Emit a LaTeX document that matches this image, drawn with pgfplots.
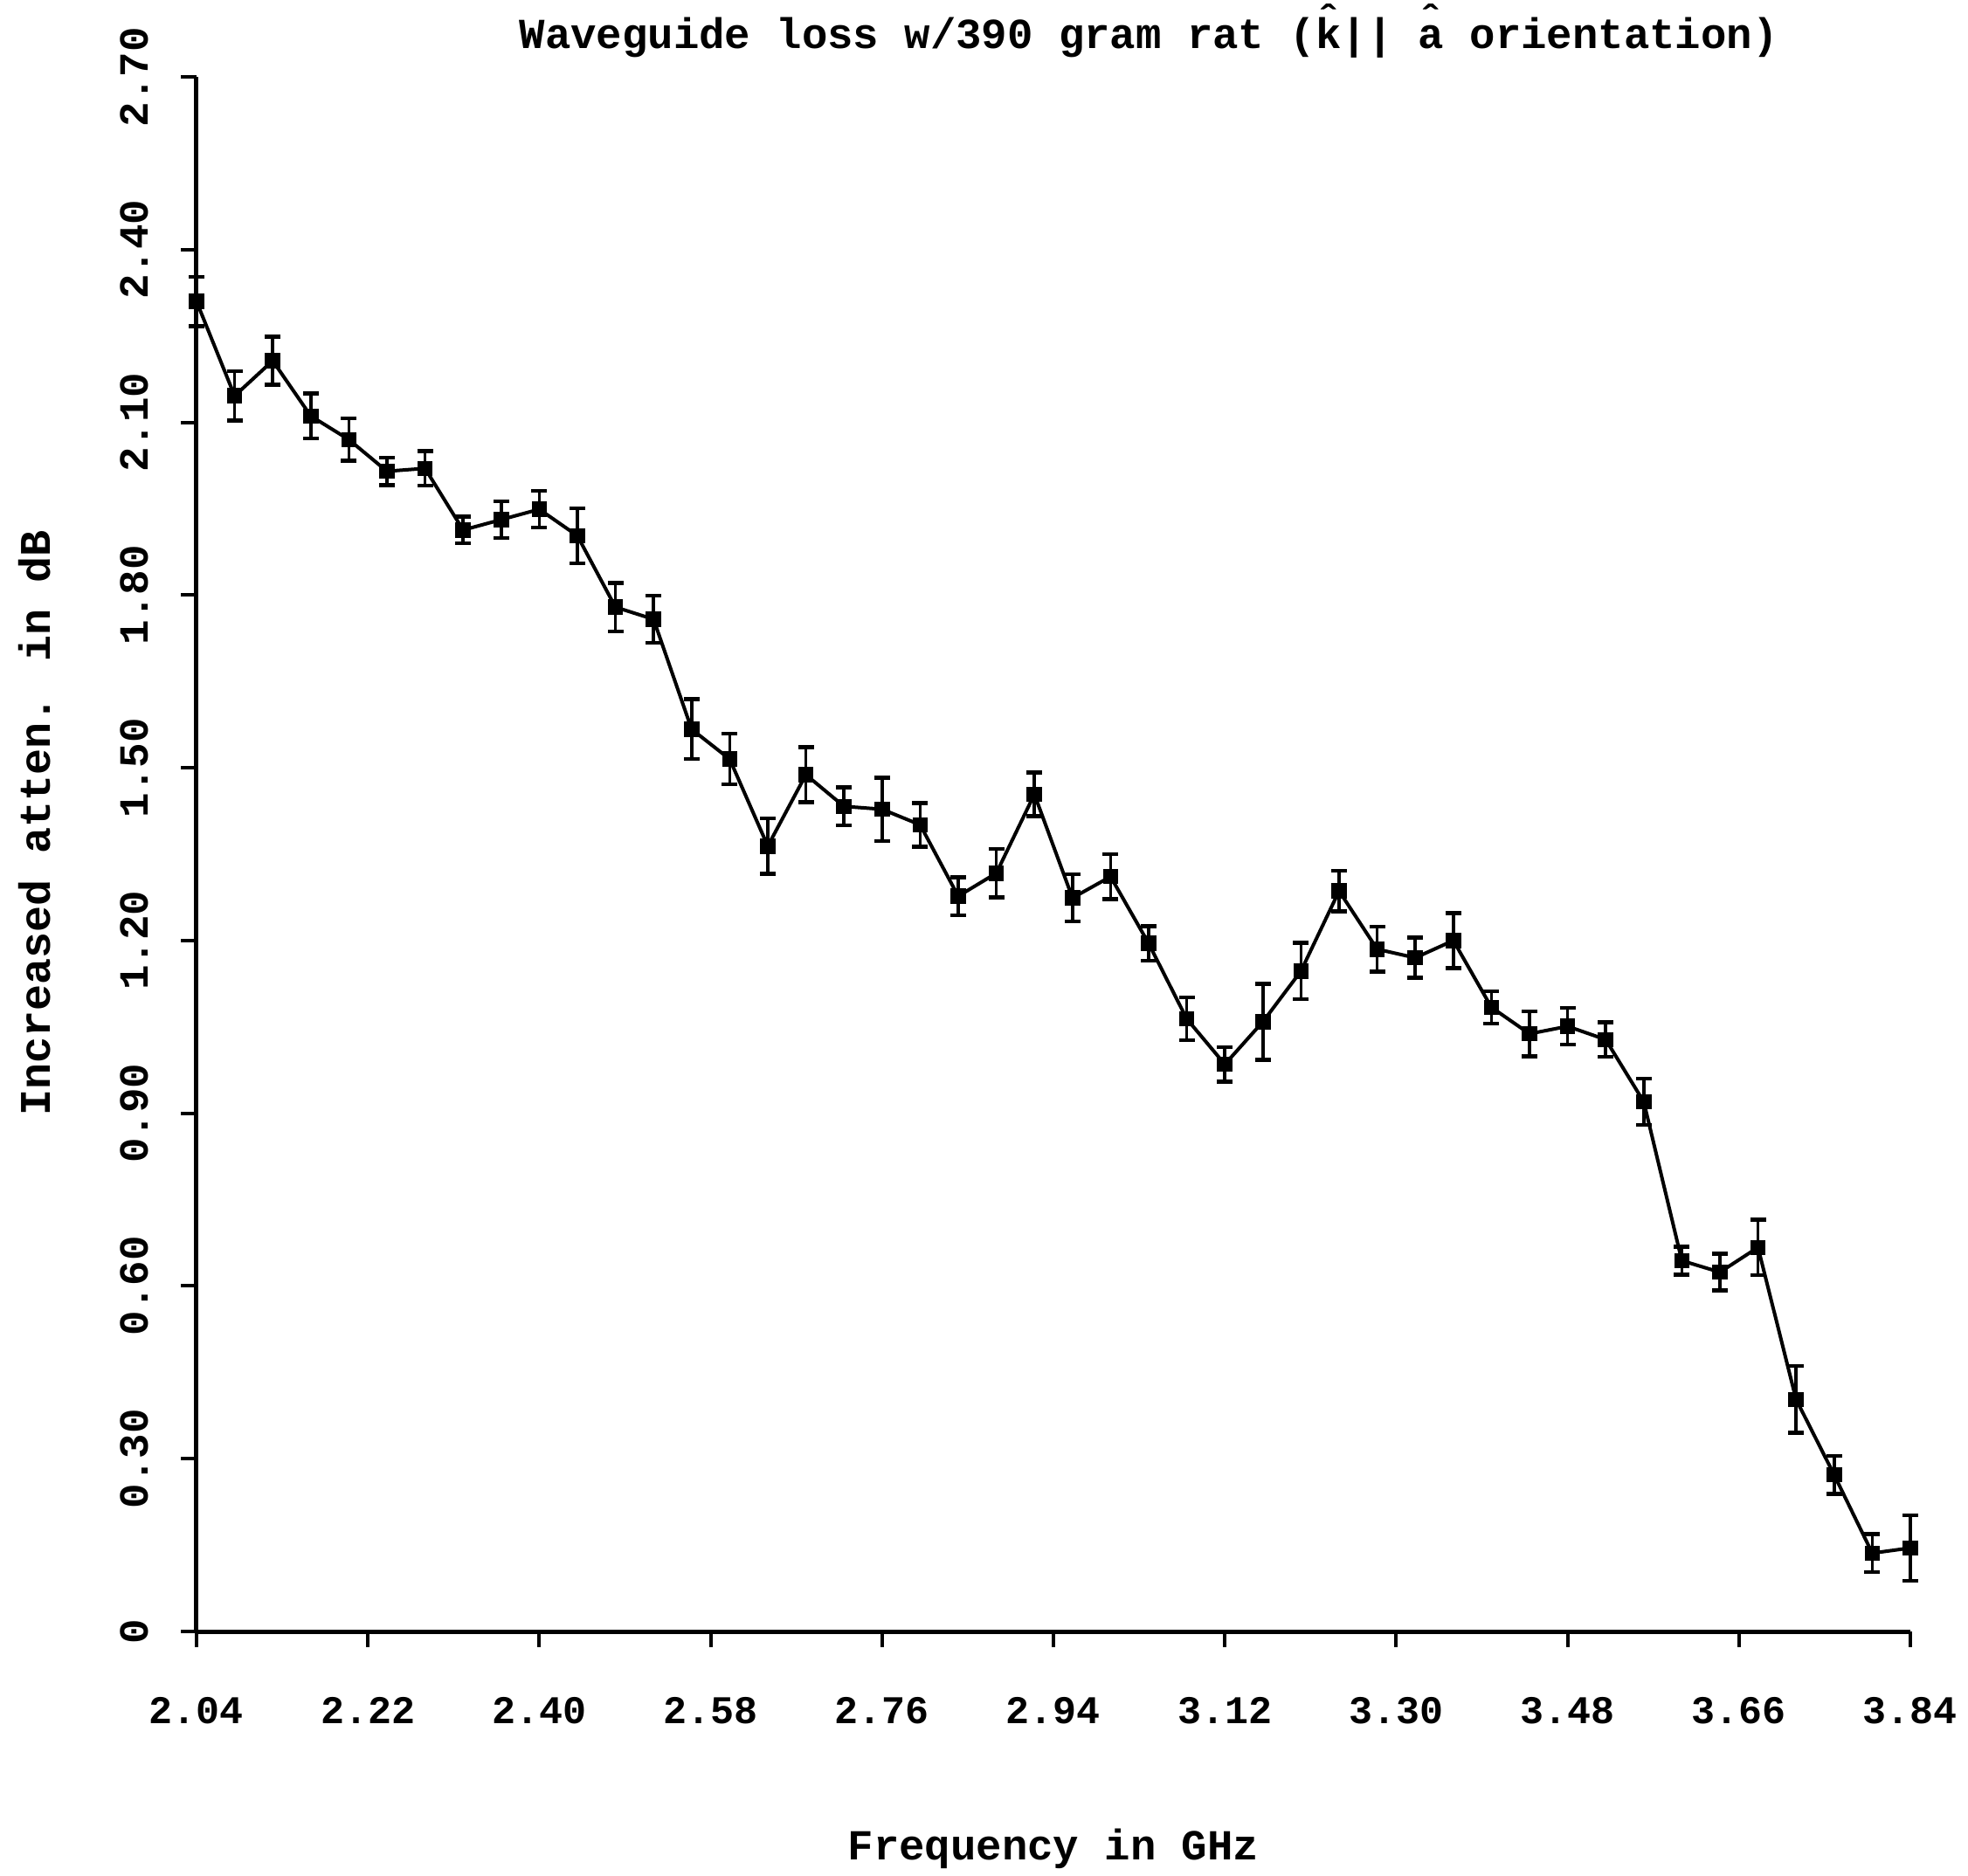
\documentclass[border=0pt]{standalone}
\usepackage{fontspec}
\setmainfont{Liberation Mono}
\usepackage{pgfplots}
\usepackage{pgfplotstable}
\pgfplotsset{compat=1.18}

% letter with a typed circumflex placed above it
\newcommand\hatted[1]{\ooalign{#1\cr\hidewidth\raisebox{0.32em}{ˆ}\hidewidth\cr}}

% frequency (GHz), increased attenuation (dB), error half-width (dB)
\pgfplotstableread{
f     att    err
2.04  2.310  0.043
2.08  2.146  0.043
2.12  2.207  0.042
2.16  2.111  0.039
2.20  2.070  0.037
2.24  2.015  0.024
2.28  2.020  0.030
2.32  1.913  0.023
2.36  1.931  0.032
2.40  1.949  0.032
2.44  1.903  0.048
2.48  1.779  0.042
2.52  1.758  0.041
2.56  1.567  0.052
2.60  1.515  0.044
2.64  1.364  0.048
2.68  1.488  0.048
2.72  1.433  0.033
2.76  1.428  0.055
2.80  1.401  0.038
2.84  1.277  0.033
2.88  1.317  0.042
2.92  1.454  0.038
2.96  1.274  0.041
3.00  1.311  0.039
3.04  1.195  0.030
3.08  1.064  0.037
3.12  0.985  0.030
3.16  1.059  0.066
3.20  1.147  0.049
3.24  1.286  0.035
3.28  1.185  0.039
3.32  1.170  0.035
3.36  1.200  0.048
3.40  1.084  0.028
3.44  1.038  0.039
3.48  1.051  0.032
3.52  1.028  0.030
3.56  0.920  0.040
3.60  0.644  0.024
3.64  0.624  0.032
3.68  0.667  0.048
3.72  0.403  0.058
3.76  0.272  0.033
3.80  0.136  0.033
3.84  0.145  0.057
}\losstable

\begin{document}
\begin{tikzpicture}
\begin{axis}[
  name=ax,
  scale only axis,
  width=392.4pt, height=356pt,
  xmin=2.04, xmax=3.84, ymin=0, ymax=2.70,
  axis lines=left,
  axis line style={-, line width=1pt, black},
  clip=false,
  xtick={2.04,2.22,2.40,2.58,2.76,2.94,3.12,3.30,3.48,3.66,3.84},
  xticklabels={2.04,2.22,2.40,2.58,2.76,2.94,3.12,3.30,3.48,3.66,3.84},
  ytick={0,0.30,0.60,0.90,1.20,1.50,1.80,2.10,2.40,2.70},
  yticklabels={0,0.30,0.60,0.90,1.20,1.50,1.80,2.10,2.40,2.70},
  tick align=outside,
  major tick length=3.5pt,
  tick style={line width=0.8pt, black},
  xticklabel style={font=\bfseries\fontsize{9}{10}\selectfont, anchor=center, yshift=-14.6pt},
  yticklabel style={font=\bfseries\fontsize{9.5}{10}\selectfont, rotate=90, anchor=center, yshift=10.8pt},
  xlabel={Frequency in GHz},
  xlabel style={font=\bfseries\fontsize{9.8}{11}\selectfont, at={(axis description cs:0.5,0)}, anchor=center, yshift=-49.8pt},
  ylabel={Increased atten. in dB},
  ylabel style={font=\bfseries\fontsize{10}{11}\selectfont, at={(axis description cs:0,0.52)}, anchor=center, yshift=37pt},
  title={Waveguide loss w/390 gram rat (\hatted{k}|| \hatted{a} orientation)},
  title style={font=\bfseries\fontsize{9.8}{11}\selectfont, at={(axis description cs:0.5556,1)}, anchor=center, yshift=3pt},
]
\addplot[black, line width=0.8pt, mark=square*, mark size=1.35pt,
  error bars/.cd, y dir=both, y explicit,
  error bar style={line width=0.7pt, black},
  error mark options={rotate=90, line width=0.9pt, mark size=1.8pt, black}]
  table[x=f, y=att, y error=err] {\losstable};
\end{axis}
\pgfresetboundingbox
\path[use as bounding box] (ax.south west) ++(-45pt,-55.8pt) rectangle ++(450.6pt,429.4pt);
\end{tikzpicture}
\end{document}
